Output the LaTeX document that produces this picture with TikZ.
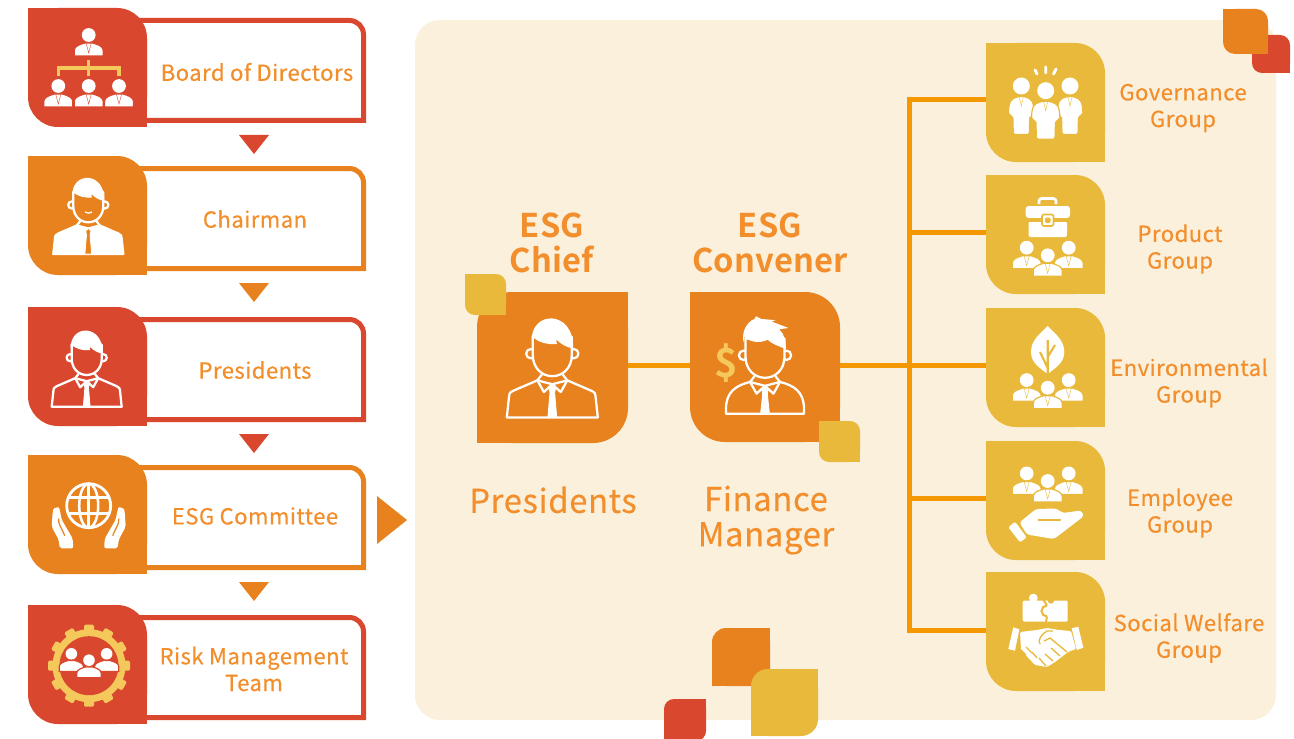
\documentclass[tikz,border=0pt]{standalone}
\usepackage{fontspec}
\setmainfont[LetterSpace=2,FakeBold=0.35]{Noto Sans CJK TC}
\newfontfamily\titlefont[LetterSpace=0.6]{Noto Sans CJK TC Bold}
\usetikzlibrary{calc}

\definecolor{tilered}{HTML}{D9472F}
\definecolor{tileorange}{HTML}{E8821E}
\definecolor{tileyellow}{HTML}{E9B93B}
\definecolor{softyellow}{HTML}{F5C85C}
\definecolor{panelcream}{HTML}{FBF0DC}
\definecolor{branchorange}{HTML}{F39800}
\definecolor{textorange}{HTML}{F28E2B}

\def\pxu{0.75pt}

\tikzset{
    tilebox/.style={inner sep=0pt,outer sep=0pt,rectangle},
    framebox/.style={line width=5*\pxu,line join=miter},
    branch/.style={draw=branchorange,line width=5*\pxu},
    steplabel/.style={text=textorange,align=center,inner sep=0pt,
        font=\fontsize{16.6}{20}\selectfont},
    titlelabel/.style={text=textorange,align=center,inner sep=0pt,
        font=\fontsize{24}{26.4}\selectfont\bfseries},
    namelabel/.style={text=textorange,align=center,inner sep=0pt,
        font=\fontsize{24.6}{26.4}\selectfont},
}

% corners top right and bottom left are round
\newcommand\tileA[6]{
    \node[tilebox,minimum size=#4*\pxu,rounded corners=#5*\pxu,fill=#6] (#1) at (#2+#4/2,#3+#4/2) {};
    \fill[#6] (#1.north west) rectangle +(#5,#5);
    \fill[#6] (#1.south east) rectangle +(-#5,-#5);
}
% corners top left and bottom right are round
\newcommand\tileB[6]{
    \node[tilebox,minimum size=#4*\pxu,rounded corners=#5*\pxu,fill=#6] (#1) at (#2+#4/2,#3+#4/2) {};
    \fill[#6] (#1.north east) rectangle +(-#5,#5);
    \fill[#6] (#1.south west) rectangle +(#5,-#5);
}
% x, y, outline, tie
\newcommand\smallman[4]{
    \begin{scope}[shift={(#1,#2)}]
        \fill[white] (0,0) circle (6.9);
        \filldraw[fill=white,draw=#3,line width=0.9pt] (-14.5,21) -- (-14.5,15) .. controls (-14,11) and (-9,9.5) .. (-4,8)
            -- (4,8) .. controls (9,9.5) and (14,11) .. (14.5,15) -- (14.5,21) -- cycle;
        \draw[#4,line width=0.3pt] (-2.5,8.5) -- (0,18) -- (2.5,8.5);
    \end{scope}
}
\newcommand\trio[4]{
    \smallman{#1-21}{#2-7.6}{#3}{#4}
    \smallman{#1+21}{#2-7.6}{#3}{#4}
    \smallman{#1}{#2}{#3}{#4}
}
% x, y, half width, colour of the tile
\newcommand\standman[4]{
    \begin{scope}[shift={(#1,#2)}]
        \fill[white] (0,0) circle (8.5);
        \filldraw[fill=white,draw=#4,line width=0.9pt,rounded corners=1.5pt] (-4,10.5) -- (4,10.5) -- (#3-2,14)
            .. controls (#3,20) .. (#3+.5,29) -- (#3-4,30) -- (#3-4.5,48.5) -- (-#3+4.5,48.5) -- (-#3+4,30) -- (-#3-.5,29)
            .. controls (-#3,20) .. (-#3+2,14) -- cycle;
        \draw[#4,line width=0.3pt] (-2,11) -- (0,20) -- (2,11);
    \end{scope}
}
% face and ears, bg colour as argument
\newcommand\manhead[1]{
    \filldraw[fill=#1,draw=white] (-16.5,1) circle (3.6);
    \filldraw[fill=#1,draw=white] (16.5,1) circle (3.6);
    \filldraw[fill=#1,draw=white] (-15,-12) -- (-15,2) .. controls (-15,12) and (-8,18.3) .. (0,18.3)
        .. controls (8,18.3) and (15,12) .. (15,2) -- (15,-12) -- cycle;
}
\newcommand\mancollar[1]{
    \draw[white] (-8,17) -- (-11.5,21.5) -- (-6.5,30.5) -- (0,24.5) -- (6.5,30.5) -- (11.5,21.5) -- (8,17);
    \filldraw[fill=#1,draw=white,line width=0.6pt] (0,24.5) -- (-2.6,27) -- (-1.8,31) -- (-3.4,50) -- (3.4,50) -- (1.8,31) -- (2.6,27) -- cycle;
}
% x, y, scale, tile colour, shirt, tie
\newcommand\outlineman[6]{
    \begin{scope}[shift={(#1,#2)},scale=#3,line width=1.7pt,line join=round]
        \manhead{#4}
        \fill[white] (-16,-8) .. controls (-17,-33) and (17,-33) .. (16,-3)
            .. controls (11,-4) and (7,-6) .. (3,-10) -- (3.5,-6.5) .. controls (-3,-6) and (-11,-7) .. (-16,-13) -- cycle;
        \filldraw[fill=#5,draw=white] (-11.5,21.5) -- (-30,29.5) .. controls (-33,31) .. (-33.5,36) -- (-35,50) -- (35,50)
            -- (33.5,36) .. controls (33,31) .. (30,29.5) -- (11.5,21.5) -- (0,24.5) -- cycle;
        \mancollar{#6}
    \end{scope}
}

\begin{document}
\begin{tikzpicture}[x=\pxu,y=-\pxu]
    \useasboundingbox (0,0) rectangle (1294,738);
    \clip (0,0) rectangle (1294,738);
    \fill[white] (0,0) rectangle (1294,738);
    \fill[panelcream,rounded corners=25*\pxu] (415,20) rectangle (1276,720);

    % left column
    \foreach \nm/\ty/\col in {board/8/tilered,chairman/156/tileorange,presidents/307/tilered,committee/455/tileorange,risk/605/tilered}{
        \draw[framebox,draw=\col] (130,\ty+12.5) [rounded corners=14*\pxu] -- (363.5,\ty+12.5) [sharp corners] -- (363.5,\ty+112.5) -- (130,\ty+112.5);
        \tileA{\nm}{28}{\ty}{119}{30}{\col}
    }
    \foreach \ty/\col in {135/tilered,283/tileorange,434/tilered,582/tileorange}
        \fill[\col] (239,\ty) -- (269,\ty) -- (254,\ty+19) -- cycle;
    \fill[tileorange] (377,496) -- (407,520) -- (377,544) -- cycle;

    \node[steplabel] (boardtxt) at (257,72) {Board of Directors};
    \node[steplabel] (chairmantxt) at (255,219) {Chairman};
    \node[steplabel] (presidentstxt) at (255,370) {Presidents};
    \node[steplabel] (committeetxt) at (255,516) {ESG Committee};
    \node[steplabel] (risktxt) at (254,669) {Risk Management\\Team};

    % decorations
    \tileA{decored}{1252}{35}{38}{10}{tilered}
    \tileA{deco}{1223}{9}{45}{12}{tileorange}
    \tileB{decoa}{712}{628}{58}{14}{tileorange}
    \tileB{decob}{751}{669}{67}{17}{tileyellow}
    \tileB{decoc}{664}{699}{42}{10}{tilered}

    % chief and convener
    \tileB{chief}{477}{292}{151}{35}{tileorange}
    \tileA{convener}{690}{292}{150}{35}{tileorange}
    \tileA{chiefmark}{465}{274}{41}{10}{tileyellow}
    \tileA{convenermark}{819}{421}{41}{10}{tileyellow}
    \node[titlelabel,font=\fontsize{24.5}{26.4}\selectfont\titlefont] (chieftxt) at (552,243) {ESG\\Chief};
    \node[titlelabel,font=\fontsize{24.5}{26.4}\selectfont\titlefont] (convenertxt) at (770,243) {ESG\\Convener};
    \node[namelabel] (chiefname) at (553,500) {Presidents};
    \node[namelabel] (convenername) at (766,520) {Finance\\Manager};

    % groups
    \tileA{gov}{986}{43}{119}{30}{tileyellow}
    \tileA{product}{986}{175}{119}{30}{tileyellow}
    \tileA{env}{986}{308}{119}{30}{tileyellow}
    \tileA{employee}{986}{441}{119}{30}{tileyellow}
    \tileA{welfare}{986}{572}{119}{30}{tileyellow}
    \node[steplabel] (govtxt) at (1183,108) {Governance\\Group};
    \node[steplabel] (producttxt) at (1180,249) {Product\\Group};
    \node[steplabel] (envtxt) at (1189,383) {Environmental\\Group};
    \node[steplabel] (employeetxt) at (1180,513) {Employee\\Group};
    \node[steplabel] (welfaretxt) at (1189,638) {Social Welfare\\Group};

    % connectors
    \coordinate (hub) at (909,365);
    \coordinate (trunktop) at (909,100);
    \coordinate (trunkprod) at (909,232);
    \coordinate (trunkemp) at (909,498);
    \coordinate (trunkend) at (909,630.5);
    \draw[branch] (chief.east |- hub) -- (convener.west |- hub);
    \draw[branch] (convener.east |- hub) -- (env.west |- hub);
    \draw[branch] (gov.west |- trunktop) -- (trunktop) -- (trunkend) -- (welfare.west |- trunkend);
    \draw[branch] (trunkprod) -- (product.west |- trunkprod);
    \draw[branch] (trunkemp) -- (employee.west |- trunkemp);

    % board icon
    \smallman{88.7}{35}{tilered}{tilered}
    \smallman{58.3}{86}{tilered}{tilered}
    \smallman{88.7}{86}{tilered}{tilered}
    \smallman{119}{86}{tilered}{tilered}
    \draw[softyellow,line width=2.3pt] (58.3,76) -- (58.3,68) -- (119,68) -- (119,76);
    \draw[softyellow,line width=2.3pt] (88.7,60) -- (88.7,76);

    % chairman, presidents and chief
    \outlineman{88.3}{204}{1}{tileorange}{white}{tileorange}
    \draw[white,line width=1pt] (85,212) .. controls (87,213.5) and (90,213.5) .. (92,212);
    \outlineman{86.7}{356.7}{1}{tilered}{tilered}{white}
    \outlineman{552.3}{352.4}{1.3}{tileorange}{tileorange}{white}

    % convener with the dollar
    \begin{scope}[shift={(765,354)},scale=1.3,line width=1.7pt,line join=round]
        \manhead{tileorange}
        \fill[white] (-16,-8) .. controls (-19,-16) and (-14,-25) .. (-8,-27) -- (-7,-29) -- (-3,-27) -- (8,-26) -- (5,-25)
            -- (18,-20) -- (11,-19) .. controls (15,-15) and (16,-10) .. (16,-4) .. controls (10,-6) and (5,-8) .. (2,-11)
            .. controls (-4,-8) and (-11,-9) .. (-16,-13) -- cycle;
        \filldraw[fill=tileorange,draw=white] (-11.5,21.5) .. controls (-22,24) and (-30,29) .. (-30,42) -- (-30,46) -- (30,46)
            -- (30,42) .. controls (30,29) and (22,24) .. (11.5,21.5) -- (0,24.5) -- cycle;
        \draw[white] (-8,17) -- (-11.5,21.5) -- (-6.5,30.5) -- (0,24.5) -- (6.5,30.5) -- (11.5,21.5) -- (8,17);
        \filldraw[fill=white,draw=white,line width=0.6pt] (0,24.5) -- (-2.4,27) -- (-1.8,31) -- (-3.4,46) -- (3.4,46) -- (1.8,31) -- (2.4,27) -- cycle;
    \end{scope}
    \node[inner sep=0pt,text=softyellow,font=\fontsize{30}{30}\selectfont\titlefont] (dollar) at (726.7,363.3) {\$};

    % globe in hands
    \begin{scope}[shift={(88.7,505.7)}]
        \draw[white,line width=2.1pt] (0,0) circle (22);
        \draw[white,line width=1.9pt] (0,0) ellipse (9.5 and 22);
        \draw[white,line width=1.9pt] (0,-22) -- (0,22) (-20,-8) -- (20,-8) (-20,8) -- (20,8);
        \foreach \s in {1,-1}{
            \begin{scope}[xscale=\s]
                \fill[white,rounded corners=1.5pt] (-37,21) -- (-36,6) .. controls (-35,2) and (-30,1) .. (-29,4) -- (-27,14)
                    -- (-16,33) -- (-15.5,42.6) -- (-29,42.6) -- (-30,34) -- cycle;
                \draw[tileorange,line width=0.9pt] (-30,13) .. controls (-31,18) and (-27,22) .. (-24,30);
            \end{scope}
        }
    \end{scope}

    % gear
    \begin{scope}[shift={(89,665.7)}]
        \foreach \a in {0,30,...,330}
            \fill[softyellow,rotate=\a,rounded corners=1pt] (-5,-41) rectangle (5,-30);
        \fill[softyellow] (0,0) circle (36.5);
        \fill[tilered] (0,0) circle (29.5);
        \begin{scope}[shift={(0,-5.5)},scale=.84]
            \trio{0}{0}{tilered}{white}
        \end{scope}
    \end{scope}

    % governance
    \standman{1021.3}{86}{12.5}{tileyellow}
    \standman{1070}{86}{12.5}{tileyellow}
    \standman{1045.7}{90.7}{13.8}{tileyellow}
    \draw[white,line width=2.2pt,line cap=round] (1035,70) -- (1037,74) (1045.7,67) -- (1045.7,73) (1056,69) -- (1053.5,74);

    % briefcase
    \draw[white,line width=2pt,rounded corners=2pt] (1039,204) -- (1039,198.5) -- (1056,198.5) -- (1056,204);
    \fill[white,rounded corners=2.2pt] (1025.7,206) rectangle (1070,218);
    \fill[white,rounded corners=1.5pt] (1028.5,221.5) rectangle (1067,237);
    \fill[tileyellow] (1028,218) rectangle (1068,221.5);
    \draw[fill=white,draw=tileyellow,line width=1.2pt,rounded corners=1.5pt] (1042,214.5) rectangle (1053.5,226);
    \fill[tileyellow,rounded corners=1pt] (1045,217.5) rectangle (1050.5,223);
    \trio{1047.7}{255.3}{tileyellow}{tileyellow}

    % leaf
    \fill[white] (1047.7,326) .. controls (1055,334) and (1064.3,340) .. (1064.3,352)
        .. controls (1064.3,363) and (1055,368) .. (1047.7,374) .. controls (1040,368) and (1031,363) .. (1031,352)
        .. controls (1031,340) and (1040,334) .. (1047.7,326) -- cycle;
    \draw[tileyellow,line width=1.6pt] (1047.7,374) -- (1047.7,340) (1047.7,368) -- (1040,352) (1047.7,357) -- (1055,345);
    \trio{1047.7}{387.7}{tileyellow}{tileyellow}

    % hand
    \trio{1047.7}{481}{tileyellow}{tileyellow}
    \fill[white,rounded corners=1pt] (1008.3,527.3) -- (1020,542.3) -- (1026.7,537.3) -- (1015,521.7) -- cycle;
    \fill[white,rounded corners=2pt] (1019.5,522.5) -- (1036,509) -- (1056,508.5) -- (1063,513) -- (1081,510.5) -- (1084,516)
        -- (1054,539) -- (1027,534.5) -- cycle;
    \draw[tileyellow,line width=1.6pt,line cap=round] (1038.5,520) -- (1060,520);

    % puzzle and handshake
    \fill[white,rounded corners=1pt] (1022.7,600.5) rectangle (1067.7,621.7);
    \fill[white] (1033.3,598) circle (4.4);
    \fill[tileyellow] (1051,600.5) circle (3.2);
    \draw[tileyellow,line width=1.5pt] (1047,605.5) arc[start angle=-90,end angle=-270,radius=5.5] (1047,605.5) -- (1043.5,600) (1047,616.5) -- (1046,622);
    \fill[white] (1008.3,649) -- (1013.3,627.3) -- (1019.3,629.3) -- (1015,650.7) -- cycle;
    \fill[white] (1071.7,628.3) -- (1078.3,626.7) -- (1083.3,647.7) -- (1076.7,650) -- cycle;
    \fill[white,rounded corners=1pt] (1020,632) -- (1037,630) -- (1047,628) -- (1059,630) -- (1071,631) -- (1076,649)
        -- (1068,652) -- (1055,662) -- (1047,667) -- (1035,665) -- (1021,650) -- cycle;
    \draw[tileyellow,line width=1pt] (1040,644) .. controls (1037,640) and (1042,634) .. (1047,631) -- (1053,631) (1044,641) -- (1050,638) -- (1067,652);
    \draw[tileyellow,line width=1pt] (1060,656) -- (1051,648) (1053,661) -- (1045,654) (1046,666) -- (1039,658);
    \draw[tileyellow,line width=1pt] (1021,650) -- (1026,655) (1026,647) -- (1032,653) (1032,652) -- (1037,658);
\end{tikzpicture}
\end{document}
